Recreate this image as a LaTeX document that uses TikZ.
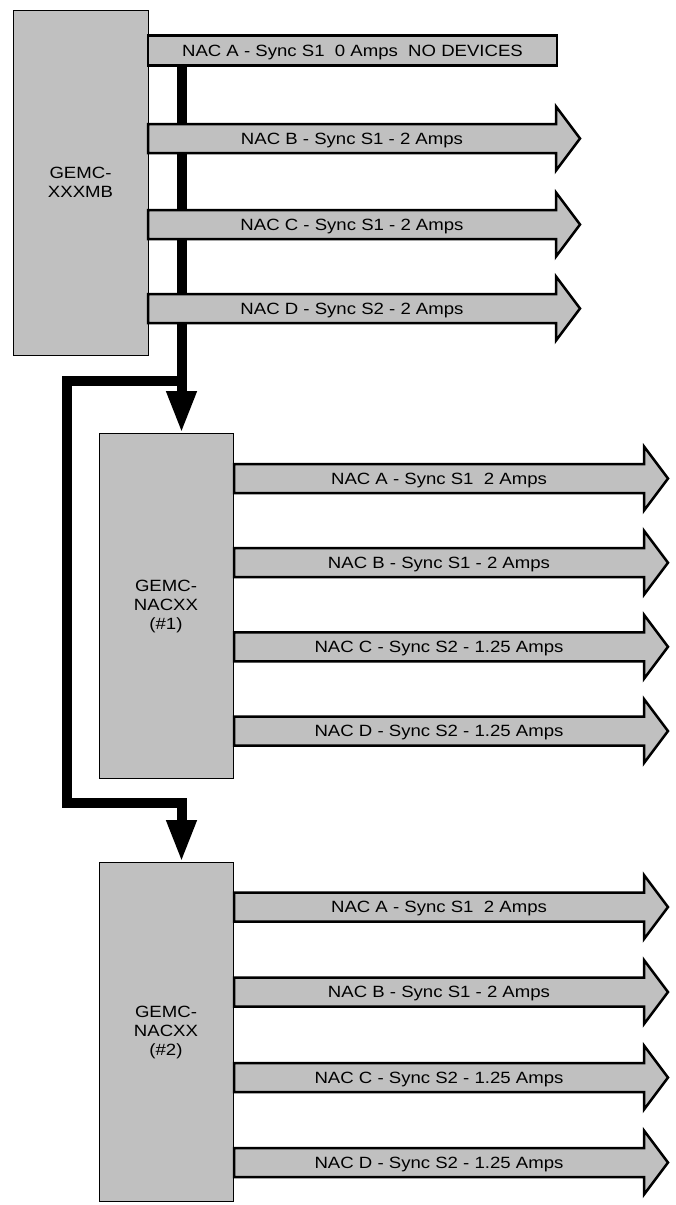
\documentclass[tikz,border=0pt]{standalone}
\usepackage{fontspec}
\setmainfont{Liberation Sans}[FakeStretch=1.14]
\usetikzlibrary{arrows.meta}
\definecolor{boxgray}{HTML}{C0C0C0}
\pgfdeclarelayer{bg}
\pgfsetlayers{bg,main}
\newcommand\nacarrow[5]{%
  \draw[bar] (#2,#3-14.5) -- (#2+#4,#3-14.5) -- (#2+#4,#3-32) -- (#2+#4+24,#3)
    -- (#2+#4,#3+32) -- (#2+#4,#3+14.5) -- (#2,#3+14.5) -- cycle;
  \node[lbl, anchor=base] (#1) at (#2+#4/2,#3+5.8) {#5};}
\begin{document}
\begin{tikzpicture}[x=1pt,y=-1pt,
  txt/.style={font=\fontsize{16.3}{19}\selectfont},
  unit/.style={draw=black, line width=1pt, fill=boxgray, align=center, inner sep=0pt, txt},
  bar/.style={draw=black, line width=2.5pt, fill=boxgray, line join=miter},
  lbl/.style={inner sep=0pt, txt},
  link/.style={line width=10pt, line join=miter},
  conn/.style={link, -{Triangle[length=42pt,width=28pt]}}]
\useasboundingbox (0,0) rectangle (676,1205);

% units
\node[unit, minimum width=135pt, minimum height=345pt] (mb) at (80.5,182.5) {GEMC-\\XXXMB};
\node[unit, minimum width=134pt, minimum height=345pt] (n1) at (166,606) {GEMC-\\NACXX\\(\#1)};
\node[unit, minimum width=134pt, minimum height=339pt] (n2) at (166,1032) {GEMC-\\NACXX\\(\#2)};

% main board circuits
\draw[bar] (148,35.5) rectangle (557,65.5);
\node[lbl, anchor=base] (mbA) at (352.5,56.3) {NAC A - Sync S1\ \ 0 Amps\ \ NO DEVICES};
\coordinate (mbAbot) at (352.5,66);
\nacarrow{mbB}{148}{138.5}{408}{NAC B - Sync S1 - 2 Amps}
\nacarrow{mbC}{148}{224.5}{408}{NAC C - Sync S1 - 2 Amps}
\nacarrow{mbD}{148}{308.5}{408}{NAC D - Sync S2 - 2 Amps}

% NAC expander 1
\nacarrow{aA}{234}{478.5}{410}{NAC A - Sync S1\ \ 2 Amps}
\nacarrow{aB}{234}{562.7}{410}{NAC B - Sync S1 - 2 Amps}
\nacarrow{aC}{234}{646.8}{410}{NAC C - Sync S2 - 1.25 Amps}
\nacarrow{aD}{234}{731}{410}{NAC D - Sync S2 - 1.25 Amps}

% NAC expander 2
\nacarrow{bA}{234}{907}{410}{NAC A - Sync S1\ \ 2 Amps}
\nacarrow{bB}{234}{992}{410}{NAC B - Sync S1 - 2 Amps}
\nacarrow{bC}{234}{1077.5}{410}{NAC C - Sync S2 - 1.25 Amps}
\nacarrow{bD}{234}{1162.5}{410}{NAC D - Sync S2 - 1.25 Amps}

% connectors
\coordinate (j) at (181.5,380.5);
\coordinate (jl) at (67,380.5);
\coordinate (ml) at (67,802.5);
\coordinate (m) at (181.5,802.5);
\begin{pgfonlayer}{bg}
\draw[conn] (mbAbot -| j) -- (j |- n1.north);
\draw[conn] (j) -- (jl) -- (ml) -- (m) -- (m |- n2.north);
\end{pgfonlayer}
\end{tikzpicture}
\end{document}
